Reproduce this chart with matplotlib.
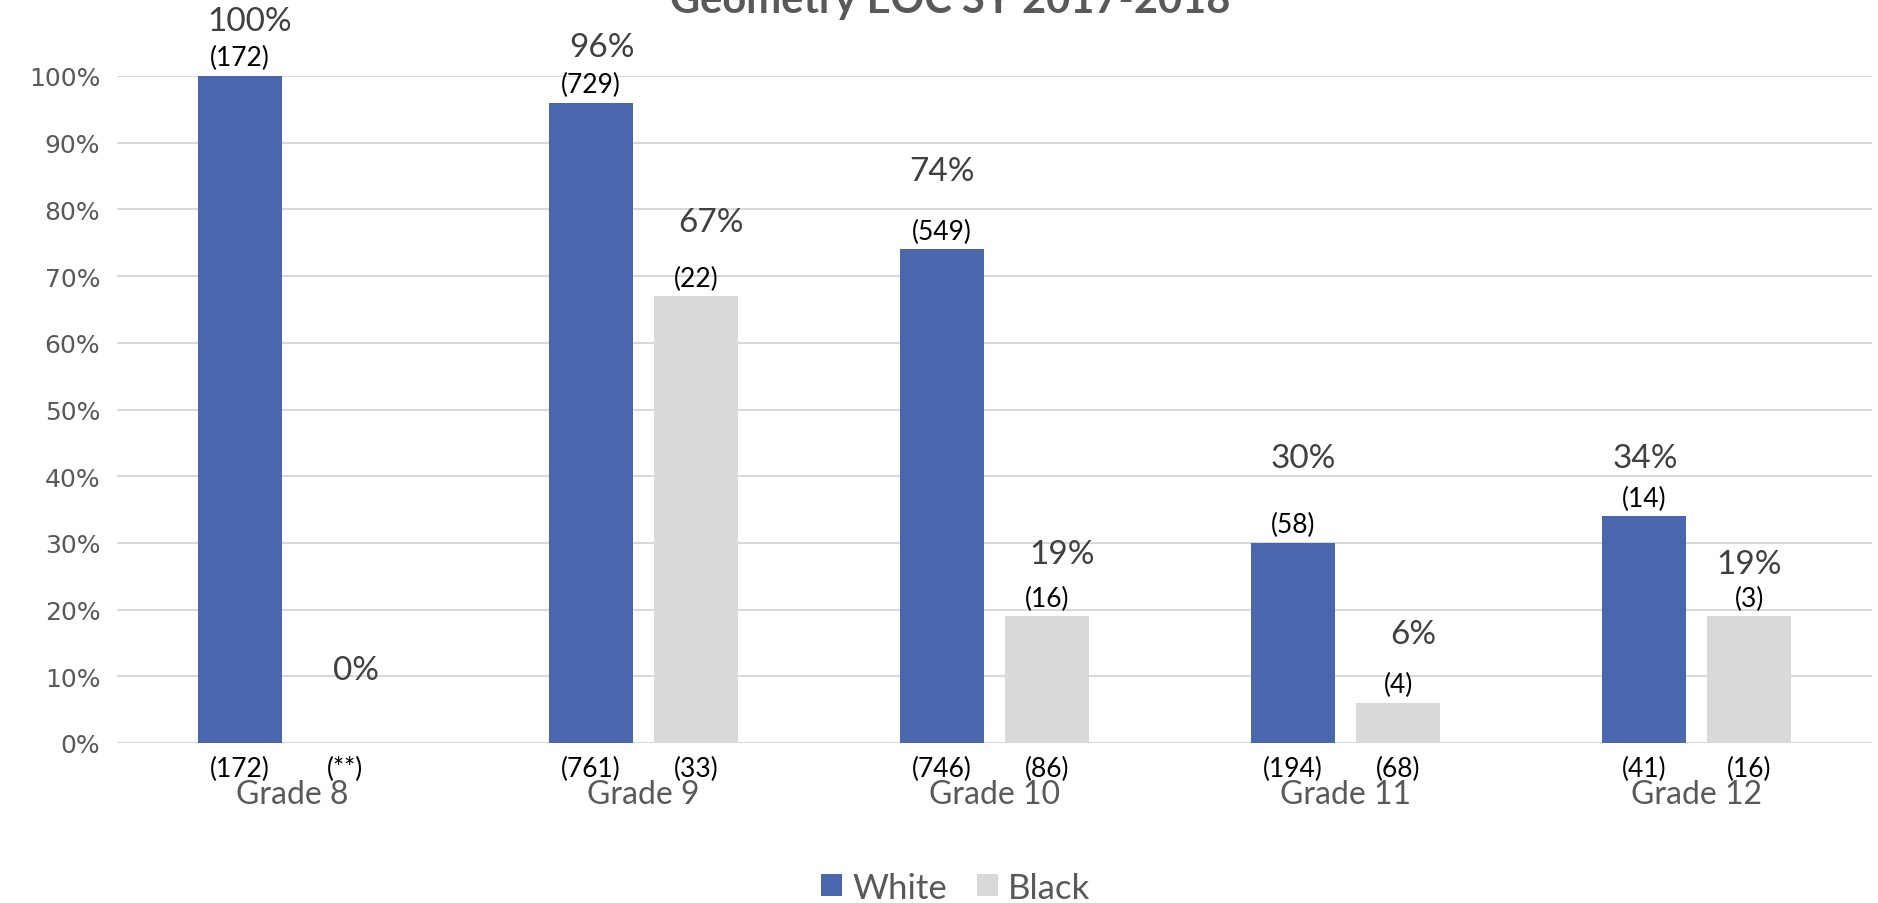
import matplotlib
matplotlib.use("Agg")
import matplotlib.pyplot as plt
import numpy as np

plt.rcParams['font.family'] = ['Lato', 'DejaVu Sans']

grades = ["Grade 8", "Grade 9", "Grade 10", "Grade 11", "Grade 12"]
white_pct = [100, 96, 74, 30, 34]
black_pct = [0, 67, 19, 6, 19]
white_passed = ["(172)", "(729)", "(549)", "(58)", "(14)"]
black_passed = ["", "(22)", "(16)", "(4)", "(3)"]
white_total = ["(172)", "(761)", "(746)", "(194)", "(41)"]
black_total = ["(**)", "(33)", "(86)", "(68)", "(16)"]

# hand placement of the percent labels (pixels above / right of bar top)
white_off = [(10, 55), (11, 56), (0, 78), (10, 85), (1, 58)]
black_off = [(11, 73), (15, 74), (15, 62), (15, 69), (0, 52)]

blue = '#4A66AC'
grey = '#D9D9D9'
pt = 0.72  # px -> points at dpi 100

fig = plt.figure(figsize=(18.78, 9.04), dpi=100)
ax = fig.add_axes([117/1878, 160/904, 1755/1878, 667/904])

x = np.arange(len(grades))
w = 0.24
xw = x - 0.15
xb = x + 0.15
ax.bar(xw, np.array(white_pct) / 100, w, color=blue, label='White', zorder=2)
ax.bar(xb, np.array(black_pct) / 100, w, color=grey, label='Black', zorder=2)

ax.set_xlim(-0.5, len(grades) - 0.5)
ax.set_ylim(0, 1)
yt = np.arange(0, 1.01, 0.1)
ax.set_yticks(yt)
ax.set_yticklabels([f"{int(round(v*100))}%" for v in yt], family='DejaVu Sans')
ax.grid(axis='y', color='#D9D9D9', linewidth=1.5, zorder=0)
for s in ['top', 'right', 'left', 'bottom']:
    ax.spines[s].set_visible(False)
ax.tick_params(axis='y', length=0, labelsize=18, labelcolor='#595959', pad=12)
ax.set_xticks(x)
ax.set_xticklabels(grades)
ax.tick_params(axis='x', length=0, labelsize=23, labelcolor='#595959', pad=26)

for xs, vals, passed, totals, offs in [(xw, white_pct, white_passed, white_total, white_off),
                                       (xb, black_pct, black_passed, black_total, black_off)]:
    for xi, v, p, t, (dx, dy) in zip(xs, vals, passed, totals, offs):
        top = v / 100
        if p:
            ax.annotate(p, (xi, top), xytext=(0, 4), textcoords='offset points',
                        ha='center', va='bottom', fontsize=19, color='black')
        ax.annotate(f"{v}%", (xi, top), xytext=(dx*pt, dy*pt), textcoords='offset points',
                    ha='center', va='center', fontsize=24, color='#404040')
        ax.annotate(t, (xi, 0), xytext=(0, -25*pt), textcoords='offset points',
                    ha='center', va='center', fontsize=19, color='black')

fig.text(0.506, 1 - 13/904, "Geometry EOC SY 2017-2018", ha='center', va='baseline',
         fontsize=30, fontweight='bold', color='#595959')

fig.legend(loc='center', bbox_to_anchor=(0.509, 0.017), ncol=2, frameon=False,
           fontsize=25, labelcolor='#595959', handlelength=0.6, handleheight=0.6,
           handletextpad=0.3, columnspacing=0.85)

fig.savefig('out.png', dpi=100)
